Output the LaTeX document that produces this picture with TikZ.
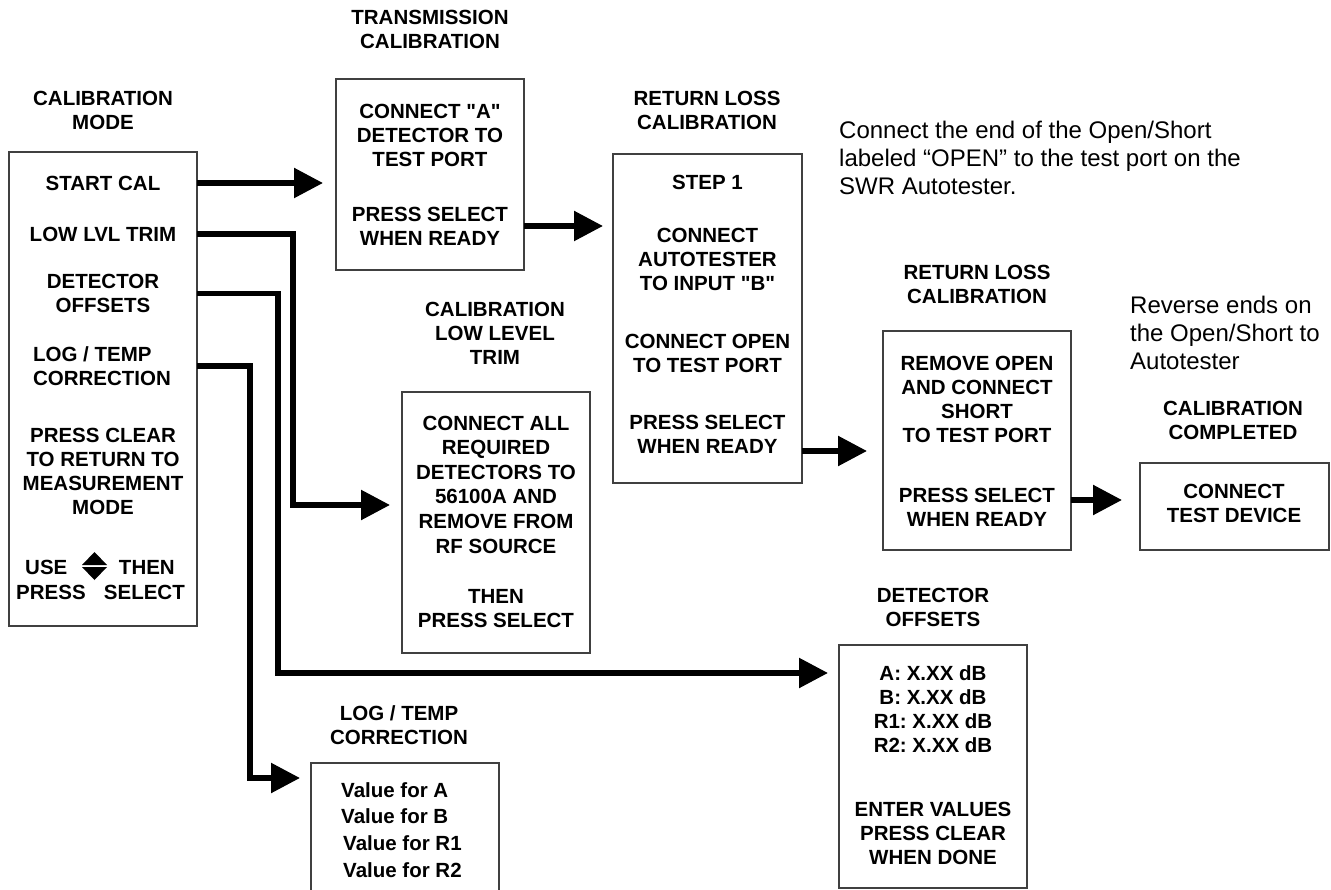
\documentclass[tikz,border=0pt]{standalone}
\usepackage{fontspec}
\setmainfont{Liberation Sans}[Ligatures=TeXOff]
\usetikzlibrary{arrows.meta,calc}
\frenchspacing
\begin{document}
\frenchspacing
\begin{tikzpicture}[x=1pt,y=-1pt,
  box/.style={draw=black!75, line width=1.2pt, inner sep=0pt, outer sep=0pt},
  txt/.style={inner sep=0pt, align=center, font=\fontsize{20.5}{24}\selectfont\bfseries},
  note/.style={inner sep=0pt, align=left, anchor=north west, font=\fontsize{24}{28}\selectfont},
  flow/.style={line width=5.5pt, -{Triangle[length=29pt,width=29pt]}},
]
\useasboundingbox (0,0) rectangle (1331,890);
% boxes
\node[box, minimum width=188pt, minimum height=474pt] (cal) at (103,389) {};
\node[box, minimum width=188pt, minimum height=191pt] (trans) at (430,174.5) {};
\node[box, minimum width=189pt, minimum height=329pt] (rl1) at (707.5,318.5) {};
\node[box, minimum width=188pt, minimum height=261pt] (llt) at (496,522.5) {};
\node[box, minimum width=188pt, minimum height=219pt] (rl2) at (977,440.5) {};
\node[box, minimum width=189pt, minimum height=87pt] (done) at (1234.5,506.5) {};
\node[box, minimum width=188pt, minimum height=243pt] (det) at (933,766.5) {};
\node[box, minimum width=188pt, minimum height=150pt] (logt) at (405,838) {};
% titles
\node[txt] (calT) at (103,110) {CALIBRATION\\MODE};
\node[txt] (transT) at (430,29.5) {TRANSMISSION\\CALIBRATION};
\node[txt] (rl1T) at (707,110) {RETURN LOSS\\CALIBRATION};
\node[txt] (lltT) at (495,333.5) {CALIBRATION\\LOW LEVEL\\TRIM};
\node[txt] (rl2T) at (977,284) {RETURN LOSS\\CALIBRATION};
\node[txt] (doneT) at (1233,420) {CALIBRATION\\COMPLETED};
\node[txt] (detT) at (933,607.5) {DETECTOR\\OFFSETS};
\node[txt] (logT) at (399,725) {LOG / TEMP\\CORRECTION};
% calibration mode menu
\node[txt] (startcal) at (103,183) {START CAL};
\node[txt] (lowlvl) at (103,234) {LOW LVL TRIM};
\node[txt] (detoff) at (103,293.5) {DETECTOR\\OFFSETS};
\node[txt, align=left] (logtemp) at (102,366) {LOG / TEMP\\CORRECTION};
\node[txt] (pressclear) at (103,471) {PRESS CLEAR\\TO RETURN TO\\MEASUREMENT\\MODE};
\node[txt, anchor=west] (use) at (25,567) {USE};
\node[txt, anchor=east] (then) at (175,567) {THEN};
\node[txt, anchor=west] (press) at (16,592) {PRESS};
\node[txt, anchor=east] (select) at (185,592) {SELECT};
\coordinate (updown) at (94.5,566);
\fill (updown) ++(-12.5,-1) -- ++(25,0) -- ++(-12.5,-13) -- cycle;
\fill (updown) ++(-12.5,1) -- ++(25,0) -- ++(-12.5,13) -- cycle;
% transmission
\node[txt] (transA) at (430,135) {CONNECT "A"\\DETECTOR TO\\TEST PORT};
\node[txt] (transB) at (430,226.5) {PRESS SELECT\\WHEN READY};
% return loss 1
\node[txt] (step) at (707.5,182) {STEP 1};
\node[txt] (rl1a) at (707.5,259) {CONNECT\\AUTOTESTER\\TO INPUT "B"};
\node[txt] (rl1b) at (707.5,353.5) {CONNECT OPEN\\TO TEST PORT};
\node[txt] (rl1c) at (707.5,434.5) {PRESS SELECT\\WHEN READY};
% low level trim
\node[txt, font=\fontsize{20.5}{24.6}\selectfont\bfseries] (llta) at (496,484.5) {CONNECT ALL\\REQUIRED\\DETECTORS TO\\56100A AND\\REMOVE FROM\\RF SOURCE};
\node[txt] (lltb) at (496,608.5) {THEN\\PRESS SELECT};
% return loss 2
\node[txt] (rl2a) at (977,399) {REMOVE OPEN\\AND CONNECT\\SHORT\\TO TEST PORT};
\node[txt] (rl2b) at (977,507) {PRESS SELECT\\WHEN READY};
% completed
\node[txt] (donea) at (1234,503.5) {CONNECT\\TEST DEVICE};
% detector offsets
\node[txt] (deta) at (933,709) {A: X.XX dB\\B: X.XX dB\\R1: X.XX dB\\R2: X.XX dB};
\node[txt] (detb) at (933,833.5) {ENTER VALUES\\PRESS CLEAR\\WHEN DONE};
% log / temp
\node[txt, align=left, anchor=west, font=\fontsize{20.5}{26.7}\selectfont\bfseries] (logv) at (341,830) {Value for A\\Value for B\\\hspace*{2pt}Value for R1\\\hspace*{2pt}Value for R2};
% notes
\node[note] (note1) at (839,121) {Connect the end of the Open/Short\\labeled “OPEN” to the test port on the\\SWR Autotester.};
\node[note] (note2) at (1130,296) {Reverse ends on\\the Open/Short to\\Autotester};
% connectors
\coordinate (k1) at (293,505);
\coordinate (k2) at (278,673);
\coordinate (k3) at (250,778);
\coordinate (t1) at (0,226);
\coordinate (r12) at (0,451);
\coordinate (r2d) at (0,500);
\draw[flow, shorten >=13pt] (cal.east |- startcal) -- (trans.west |- startcal);
\draw[flow, shorten >=12pt] (cal.east |- lowlvl) -| (k1) -- (llt.west |- k1);
\draw[flow, shorten >=11pt] (cal.east |- detoff) -| (k2) -- (det.west |- k2);
\draw[flow, shorten >=11pt] (cal.east |- logtemp) -| (k3) -- (logt.west |- k3);
\draw[flow, shorten >=10pt] (trans.east |- t1) -- (rl1.west |- t1);
\draw[flow, shorten >=16pt] (rl1.east |- r12) -- (rl2.west |- r12);
\draw[flow, shorten >=18pt] (rl2.east |- r2d) -- (done.west |- r2d);
\end{tikzpicture}
\end{document}
